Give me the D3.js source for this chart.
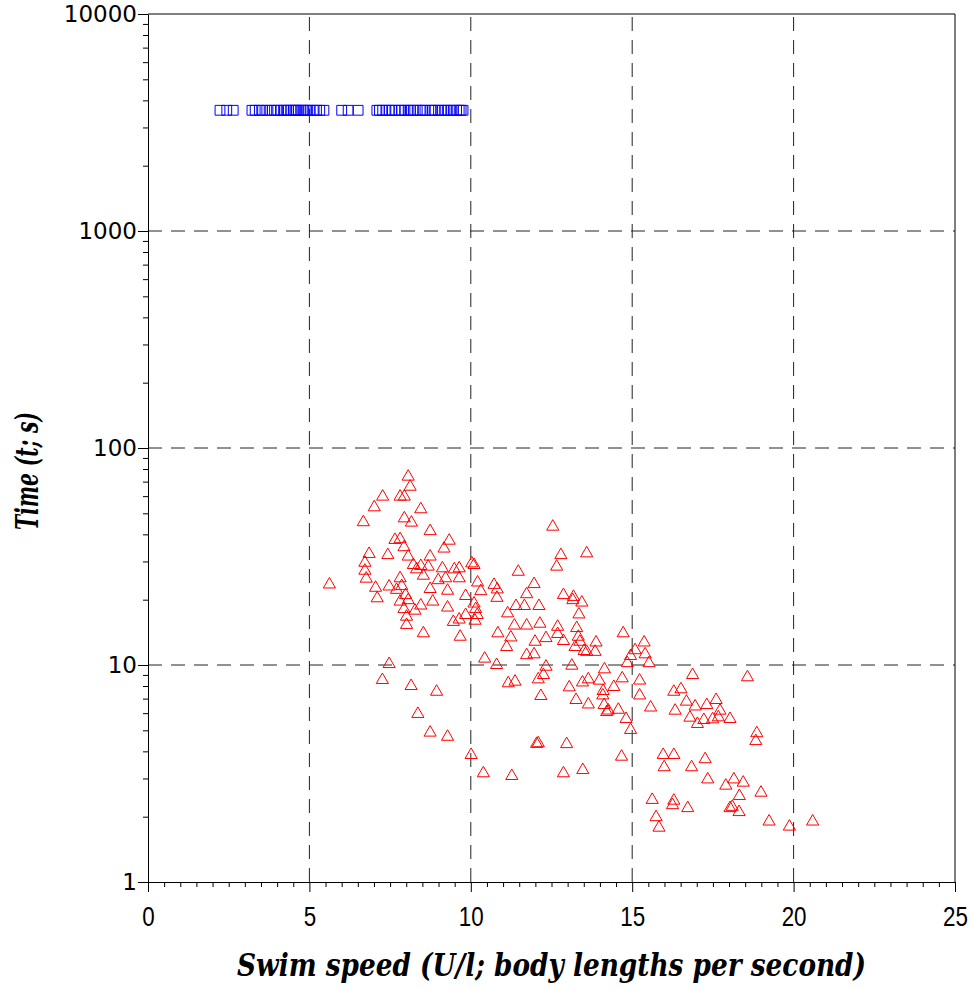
<!DOCTYPE html>
<html>
<head>
<meta charset="utf-8">
<script src="https://cdn.jsdelivr.net/npm/d3@7"></script>
<style>
  body { margin: 0; background: #fff; }
  svg { display: block; }
</style>
</head>
<body>
<svg id="chart"></svg>
<script>
// size of the page
var width = 974,
    height = 990;

// plot box
var plotLeft = 148, plotRight = 955, plotTop = 14, plotBottom = 882;

// axis ticks
var xTicks = [0, 5, 10, 15, 20, 25];
var xGrid = [5, 10, 15, 20];
var yTicks = [1, 10, 100, 1000, 10000];
var yGrid = [10, 100, 1000];

// fish that never fatigued (stopped at 3600 s)
var squareSpeed = [
  2.23, 2.44, 2.64,
  3.22, 3.32, 3.45, 3.55, 3.68, 3.8, 3.92, 4.02, 4.12, 4.2, 4.28, 4.35, 4.43,
  4.5, 4.55, 4.6, 4.66, 4.74, 4.8, 4.87, 4.95, 5.02, 5.12, 5.22, 5.32, 5.45,
  6.0, 6.2, 6.51,
  7.09, 7.17, 7.27, 7.37, 7.47, 7.55, 7.65, 7.78, 7.86, 7.96, 8.06, 8.13, 8.22,
  8.34, 8.43, 8.51, 8.58, 8.76, 8.82, 8.89, 9.0, 9.1, 9.2, 9.27, 9.38, 9.46,
  9.56, 9.64, 9.7, 9.76
];
var squareTime = 3600;

// fatigued fish: swim speed and time to fatigue
var triSpeed = [
  8.06, 8.12, 7.27, 7.81, 7.94, 7.01, 8.45, 6.67, 7.94, 8.16,
  8.74, 7.65, 7.81, 7.93, 9.33, 9.17, 6.85, 7.43, 8.06, 8.74,
  6.72, 8.22, 8.45, 8.68, 8.32, 9.12, 9.49, 9.64, 10.03, 10.10,
  6.72, 8.53, 9.22, 8.99, 9.64, 7.81, 6.76, 5.62, 7.05, 7.47,
  7.86, 7.70, 8.74, 9.28, 10.21, 10.31, 10.72, 7.10, 7.98, 7.81,
  8.06, 8.82, 9.84, 10.81, 7.93, 8.27, 8.45, 9.28, 10.10, 10.15,
  8.01, 9.46, 9.64, 9.84, 10.13, 10.20, 8.01, 8.53, 9.67, 10.84,
  7.47, 10.43, 10.80, 7.26, 8.15, 8.94, 8.36, 8.74, 9.28, 10.01,
  10.39, 12.54, 12.79, 13.59, 12.66, 11.47, 10.82, 11.96, 11.73, 12.87,
  13.18, 13.16, 13.44, 11.40, 11.66, 12.11, 11.14, 13.35, 11.35, 11.73,
  12.14, 12.69, 13.28, 12.69, 13.33, 14.72, 11.24, 11.99, 12.33, 12.87,
  11.11, 13.23, 13.38, 13.51, 13.59, 13.85, 13.88, 15.09, 15.37, 15.40,
  14.95, 11.73, 11.96, 15.52, 12.33, 13.13, 14.14, 14.85, 11.16, 11.37,
  12.09, 12.25, 13.05, 13.46, 13.64, 13.98, 14.69, 14.43, 15.23, 14.10,
  14.09, 12.17, 15.23, 13.26, 13.64, 14.13, 14.26, 14.21, 14.57, 15.57,
  14.81, 14.95, 12.09, 12.04, 12.97, 14.67, 11.27, 12.87, 13.47, 16.87,
  18.57, 16.29, 16.51, 16.68, 16.95, 17.31, 17.60, 17.72, 16.33, 16.79,
  17.02, 17.22, 17.49, 17.67, 18.03, 18.86, 18.83, 15.96, 16.29, 17.26,
  15.99, 16.84, 17.34, 17.90, 18.15, 18.44, 18.32, 18.99, 15.62, 16.29,
  16.25, 16.72, 18.03, 18.10, 18.31, 15.74, 15.83, 19.24, 19.87, 20.59
];
var triTime = [
  73.8, 66.3, 59.7, 59.7, 59.7, 53.3, 52.2, 45.5, 47.4, 45.3,
  41.4, 37.7, 38.0, 34.9, 37.4, 34.4, 32.5, 32.1, 31.6, 31.6,
  29.6, 28.9, 28.6, 28.4, 27.6, 27.9, 27.6, 27.9, 29.4, 28.9,
  27.2, 25.8, 25.1, 24.6, 25.1, 25.1, 25.0, 23.5, 22.7, 23.0,
  23.1, 22.2, 22.4, 22.0, 24.0, 21.9, 23.4, 20.3, 21.0, 19.6,
  19.9, 19.6, 20.8, 20.4, 18.1, 17.8, 18.8, 18.4, 19.2, 18.1,
  16.7, 15.8, 16.2, 17.0, 16.0, 17.0, 15.3, 14.0, 13.5, 14.0,
  10.1, 10.7, 10.0, 8.53, 8.0, 7.53, 5.95, 4.88, 4.67, 3.85,
  3.17, 43.4, 32.1, 32.7, 28.4, 26.9, 22.3, 23.6, 21.2, 21.0,
  20.6, 19.9, 19.4, 18.7, 18.7, 18.7, 17.3, 17.1, 15.2, 15.2,
  15.5, 15.0, 14.8, 13.9, 13.5, 14.0, 13.4, 12.8, 13.3, 12.9,
  12.1, 12.1, 12.8, 11.6, 11.5, 11.5, 12.7, 11.7, 12.7, 11.2,
  11.0, 11.1, 11.2, 10.2, 9.82, 9.93, 9.55, 10.2, 8.24, 8.38,
  8.59, 8.99, 7.89, 8.31, 8.59, 8.47, 8.68, 7.92, 8.48, 7.59,
  7.24, 7.20, 7.24, 6.90, 6.58, 6.54, 6.17, 6.07, 6.22, 6.37,
  5.64, 5.02, 4.36, 4.33, 4.32, 3.78, 3.08, 3.17, 3.28, 8.99,
  8.78, 7.53, 7.73, 6.78, 6.44, 6.54, 6.90, 6.16, 6.16, 5.72,
  5.35, 5.58, 5.62, 5.74, 5.64, 4.85, 4.46, 3.85, 3.85, 3.68,
  3.38, 3.38, 2.97, 2.78, 2.97, 2.87, 2.49, 2.58, 2.39, 2.37,
  2.26, 2.19, 2.19, 2.22, 2.10, 1.99, 1.78, 1.90, 1.80, 1.90
];

var svg = d3.select("#chart")
    .attr("width", width)
    .attr("height", height);

svg.append("rect")
    .attr("width", width)
    .attr("height", height)
    .attr("fill", "#fff");

var x = d3.scaleLinear().domain([0, 25]).range([plotLeft, plotRight]);
var y = d3.scaleLog().domain([1, 10000]).range([plotBottom, plotTop]);

// dashed grid, drawn from the axes outward
svg.append("g").selectAll("line")
    .data(xGrid)
    .enter().append("line")
      .attr("x1", d => x(d)).attr("x2", d => x(d))
      .attr("y1", plotBottom).attr("y2", plotTop)
      .attr("stroke", "#222")
      .attr("stroke-dasharray", "14,9");

svg.append("g").selectAll("line")
    .data(yGrid)
    .enter().append("line")
      .attr("x1", plotLeft).attr("x2", plotRight)
      .attr("y1", d => y(d)).attr("y2", d => y(d))
      .attr("stroke", "#222")
      .attr("stroke-dasharray", "14,9");

// frame on top and right
svg.append("path")
    .attr("d", "M" + plotLeft + "," + plotTop + "H" + plotRight + "V" + plotBottom)
    .attr("fill", "none")
    .attr("stroke", "#000");

// minor ticks
var xMinor = d3.range(0, 25.01, 0.5).filter(d => d % 5 !== 0);
var yMinor = [];
[1, 10, 100, 1000].forEach(function(p) {
  for (var k = 2; k <= 9; k++) yMinor.push(k * p);
});

svg.append("g")
    .attr("transform", "translate(0," + plotBottom + ")")
    .call(d3.axisBottom(x).tickValues(xMinor).tickSize(5).tickSizeOuter(0).tickFormat(""))
    .call(g => g.select(".domain").remove());

svg.append("g")
    .attr("transform", "translate(" + plotLeft + ",0)")
    .call(d3.axisLeft(y).tickValues(yMinor).tickSize(5).tickSizeOuter(0).tickFormat(""))
    .call(g => g.select(".domain").remove());

// major axes
var xAxis = svg.append("g")
    .attr("transform", "translate(0," + plotBottom + ")")
    .call(d3.axisBottom(x).tickValues(xTicks).tickSize(10).tickSizeOuter(0).tickPadding(14));
xAxis.selectAll("text")
    .attr("font-family", "'Liberation Sans', Arial, sans-serif")
    .attr("font-size", 28)
    .attr("transform", "scale(0.8,1)")
    .attr("fill", "#000");

var yAxis = svg.append("g")
    .attr("transform", "translate(" + plotLeft + ",0)")
    .call(d3.axisLeft(y).tickValues(yTicks).tickSize(10).tickSizeOuter(0).tickPadding(1)
      .tickFormat(d3.format("d")));
yAxis.selectAll("text")
    .attr("font-family", "'DejaVu Sans', Verdana, sans-serif")
    .attr("font-size", 23)
    .attr("fill", "#000");

svg.selectAll(".domain, .tick line").attr("stroke", "#000");

// points
var tri = d3.symbol().type(d3.symbolTriangle).size(64);
svg.append("g").selectAll("path")
    .data(d3.range(triSpeed.length))
    .enter().append("path")
      .attr("transform", i => "translate(" + x(triSpeed[i]) + "," + y(triTime[i]) + ")")
      .attr("d", tri)
      .attr("fill", "none")
      .attr("stroke", "#ff0000")
      .attr("stroke-width", 1);

var sq = d3.symbol().type(d3.symbolSquare).size(96);
svg.append("g").selectAll("path")
    .data(squareSpeed)
    .enter().append("path")
      .attr("transform", d => "translate(" + x(d) + "," + y(squareTime) + ")")
      .attr("d", sq)
      .attr("fill", "none")
      .attr("stroke", "#0000ff")
      .attr("stroke-width", 1);

// axis titles
svg.append("text")
    .attr("x", (plotLeft + plotRight) / 2 + 0)
    .attr("y", 976)
    .attr("text-anchor", "middle")
    .attr("font-family", "'DejaVu Serif Condensed', 'DejaVu Serif', serif")
    .attr("font-weight", "bold")
    .attr("font-style", "italic")
    .attr("font-size", 31)
    .attr("textLength", 629)
    .attr("lengthAdjust", "spacingAndGlyphs")
    .text("Swim speed (U/l; body lengths per second)");

svg.append("text")
    .attr("transform", "translate(38,471) rotate(-90)")
    .attr("text-anchor", "middle")
    .attr("font-family", "'DejaVu Serif Condensed', 'DejaVu Serif', serif")
    .attr("font-weight", "bold")
    .attr("font-style", "italic")
    .attr("font-size", 31)
    .attr("textLength", 118)
    .attr("lengthAdjust", "spacingAndGlyphs")
    .text("Time (t; s)");
</script>
</body>
</html>
